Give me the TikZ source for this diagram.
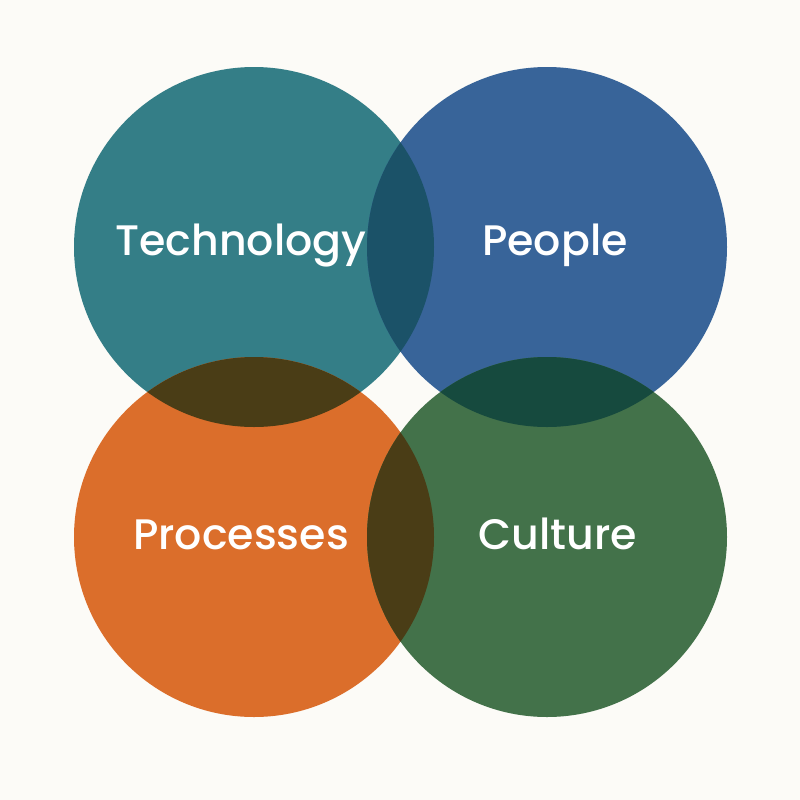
\documentclass[tikz,border=0pt]{standalone}
\usepackage{fontspec}
\setmainfont{Poppins Medium}
\usepackage{xcolor}
\usetikzlibrary{calc}
\definecolor{bg}{RGB}{252,251,247}
\definecolor{tealc}{RGB}{52,126,135}
\definecolor{bluc}{RGB}{56,100,153}
\definecolor{orng}{RGB}{219,110,43}
\definecolor{grn}{RGB}{67,114,74}
\definecolor{tealblu}{RGB}{27,82,104}
\definecolor{brwn}{RGB}{74,61,22}
\definecolor{dkgrn}{RGB}{22,74,62}
\tikzset{lbl/.style={text=white, font=\fontsize{32}{38}\selectfont, anchor=base, inner sep=0pt}}

\begin{document}
\begin{tikzpicture}[x=0.75pt,y=0.75pt,yscale=-1,xscale=1]
	\fill [bg] (0,0) rectangle (800,800);

	\fill [tealc] (254,247) circle (180);
	\fill [bluc] (547,247) circle (180);
	\fill [orng] (254,537) circle (180);
	\fill [grn] (547,537) circle (180);

	%overlaps
	\begin{scope}
		\clip (254,247) circle (180);
		\fill [tealblu] (547,247) circle (180);
		\fill [brwn] (254,537) circle (180);
	\end{scope}
	\begin{scope}
		\clip (547,537) circle (180);
		\fill [dkgrn] (547,247) circle (180);
		\fill [brwn] (254,537) circle (180);
	\end{scope}

	\node [lbl] (tech) at (241,255) {Technology};
	\node [lbl] (ppl) at (555,255) {People};
	\node [lbl] (proc) at (241,549) {Processes};
	\node [lbl] (cult) at (558,549) {Culture};
\end{tikzpicture}
\end{document}
